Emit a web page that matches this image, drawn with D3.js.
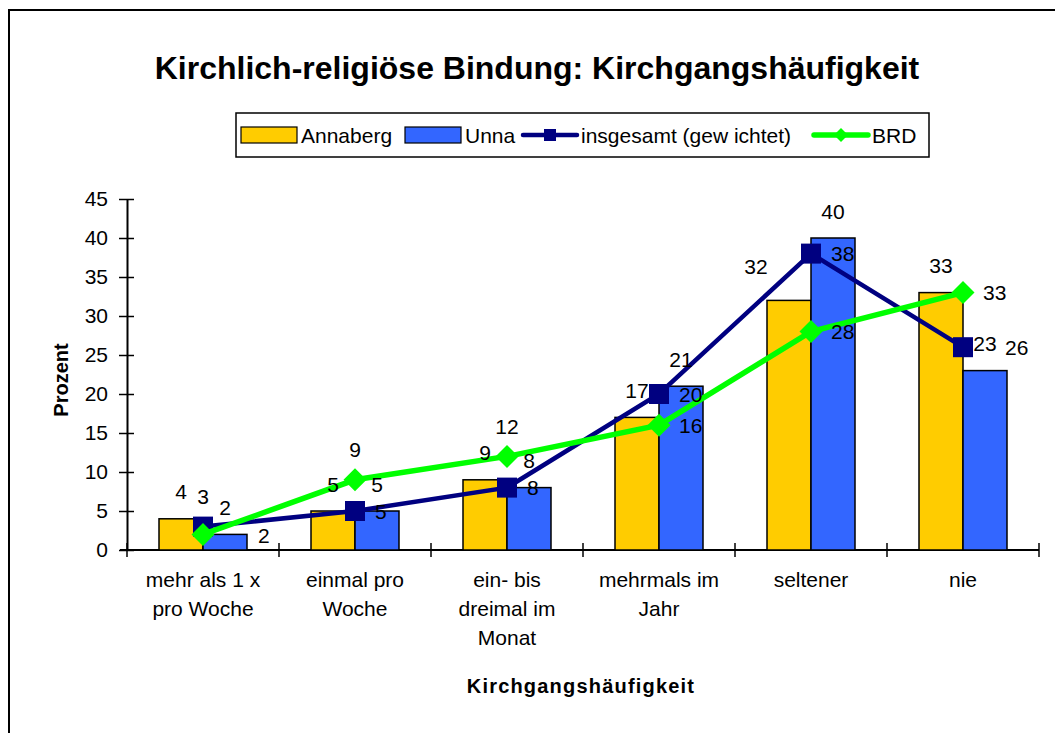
<!DOCTYPE html>
<html>
<head>
<meta charset="utf-8">
<script src="https://cdn.jsdelivr.net/npm/d3@7"></script>
<style>
  body { margin: 0; background: #fff; }
  text { font-family: "Liberation Sans", Arial, sans-serif; fill: #000; }
</style>
</head>
<body>
<script>
var categories = [
  ["mehr als 1 x", "pro Woche"],
  ["einmal pro", "Woche"],
  ["ein- bis", "dreimal im", "Monat"],
  ["mehrmals im", "Jahr"],
  ["seltener"],
  ["nie"]
];
var annaberg = [4, 5, 9, 17, 32, 33];
var unna = [2, 5, 8, 21, 40, 23];
var insgesamt = [3, 5, 8, 20, 38, 26];
var brd = [2, 9, 12, 16, 28, 33];
var yTicks = [0, 5, 10, 15, 20, 25, 30, 35, 40, 45];

// where Excel put the data labels
var annabergLabelPos = ["top", "top", "top", "top", "topleft", "top"];
var insgesamtLabelPos = ["above", "right", "right", "right", "right", "far"];
var brdLabelPos = ["farther", "above", "above", "right", "right", "right"];

var width = 1055, height = 733,
    fs = "21px";

var svg = d3.select("body").append("svg")
    .attr("width", width)
    .attr("height", height);

// outer frame (runs off right and bottom)
svg.append("rect")
    .attr("x", 9).attr("y", 10)
    .attr("width", width + 20).attr("height", height + 20)
    .attr("fill", "none").attr("stroke", "#000").attr("stroke-width", 2);

svg.append("text")
    .attr("x", 537).attr("y", 79)
    .attr("text-anchor", "middle")
    .style("font-size", "32px").style("font-weight", "bold")
    .text("Kirchlich-religiöse Bindung: Kirchgangshäufigkeit");

var catIdx = d3.range(categories.length);

var x0 = d3.scaleBand().domain(catIdx).range([127, 1039]);
var x1 = d3.scaleBand().domain(["Annaberg", "Unna"]).range([32, 120]);
var y = d3.scaleLinear().domain([0, 45]).range([550, 199]);

var cx = (i) => x0(i) + x0.bandwidth() / 2;

// axes
var yAxis = svg.append("g")
    .attr("transform", "translate(127,0)")
    .call(d3.axisLeft(y).tickValues(yTicks).tickSize(0).tickPadding(19));
yAxis.select(".domain").attr("stroke", "#000").attr("stroke-width", 2);
yAxis.selectAll(".tick text").style("font-size", fs).style("font-family", "Liberation Sans, Arial, sans-serif");
yAxis.selectAll(".tick").append("line")
    .attr("x1", -8).attr("x2", 7)
    .attr("stroke", "#000").attr("stroke-width", 1.5);

var xAxis = svg.append("g")
    .attr("transform", "translate(0,550)");
xAxis.append("line")
    .attr("x1", 120).attr("x2", 1039)
    .attr("stroke", "#000").attr("stroke-width", 2);
xAxis.selectAll(".xt")
    .data(d3.range(categories.length + 1))
  .enter().append("line")
    .attr("x1", (d) => 127 + d * x0.bandwidth())
    .attr("x2", (d) => 127 + d * x0.bandwidth())
    .attr("y1", -7).attr("y2", 7)
    .attr("stroke", "#000").attr("stroke-width", 1.5);

var catLabels = svg.selectAll(".cat")
    .data(categories)
  .enter().append("text")
    .attr("class", "cat")
    .attr("text-anchor", "middle")
    .style("font-size", fs);
catLabels.selectAll("tspan")
    .data((d, i) => d.map((t) => ({t: t, i: i})))
  .enter().append("tspan")
    .attr("x", (d) => cx(d.i))
    .attr("y", (d, j) => 587 + j * 29)
    .text((d) => d.t);

svg.append("text")
    .attr("transform", "translate(68,380) rotate(-90)")
    .attr("text-anchor", "middle")
    .style("font-size", "20px").style("font-weight", "bold")
    .text("Prozent");

svg.append("text")
    .attr("x", 581).attr("y", 693)
    .attr("text-anchor", "middle")
    .style("font-size", "20px").style("font-weight", "bold")
    .style("letter-spacing", "1.2px")
    .text("Kirchgangshäufigkeit");

// bars
var bars = [
  {name: "Annaberg", values: annaberg, color: "#FFCC00"},
  {name: "Unna", values: unna, color: "#3366FF"}
];
bars.forEach(function(s) {
  svg.selectAll(".bar-" + s.name)
      .data(s.values)
    .enter().append("rect")
      .attr("x", (d, i) => x0(i) + x1(s.name))
      .attr("y", (d) => y(d))
      .attr("width", x1.bandwidth())
      .attr("height", (d) => y(0) - y(d))
      .attr("fill", s.color)
      .attr("stroke", "#000").attr("stroke-width", 1.5);
});

// lines
var line = d3.line().x((d, i) => cx(i)).y((d) => y(d));

svg.append("path")
    .datum(insgesamt)
    .attr("d", line)
    .attr("fill", "none").attr("stroke", "#000080").attr("stroke-width", 4.5);
svg.selectAll(".sq")
    .data(insgesamt)
  .enter().append("rect")
    .attr("x", (d, i) => cx(i) - 10)
    .attr("y", (d) => y(d) - 10)
    .attr("width", 20).attr("height", 20)
    .attr("fill", "#000080");

svg.append("path")
    .datum(brd)
    .attr("d", line)
    .attr("fill", "none").attr("stroke", "#00FF00").attr("stroke-width", 5.5);
svg.selectAll(".dia")
    .data(brd)
  .enter().append("path")
    .attr("d", (d, i) => {
      var px = cx(i), py = y(d), r = 11.5;
      return "M" + px + "," + (py - r) + "L" + (px + r) + "," + py +
             "L" + px + "," + (py + r) + "L" + (px - r) + "," + py + "Z";
    })
    .attr("fill", "#00FF00");

// data labels
function addLabel(px, py, anchor, txt) {
  svg.append("text")
      .attr("x", px).attr("y", py)
      .attr("dy", "0.36em")
      .attr("text-anchor", anchor)
      .style("font-size", fs)
      .text(txt);
}

annaberg.forEach(function(d, i) {
  var bx = x0(i) + x1("Annaberg") + x1.bandwidth() / 2;
  if (annabergLabelPos[i] == "topleft") addLabel(bx - 33, y(d) - 34, "middle", d);
  else addLabel(bx, y(d) - 27, "middle", d);
});
unna.forEach(function(d, i) {
  var bx = x0(i) + x1("Unna") + x1.bandwidth() / 2;
  addLabel(bx, y(d) - 27, "middle", d);
});

var lineOffsets = {
  above: [0, -30, "middle"],
  right: [20, 0, "start"],
  far: [42, 0, "start"],
  farther: [55, 1, "start"]
};
[[insgesamt, insgesamtLabelPos], [brd, brdLabelPos]].forEach(function(s) {
  s[0].forEach(function(d, i) {
    var o = lineOffsets[s[1][i]];
    addLabel(cx(i) + o[0], y(d) + o[1], o[2], d);
  });
});

// legend
var lg = svg.append("g");
lg.append("rect")
    .attr("x", 236).attr("y", 113)
    .attr("width", 693).attr("height", 44)
    .attr("fill", "#fff").attr("stroke", "#000").attr("stroke-width", 1.5);

var legendItems = [
  {name: "Annaberg", type: "bar", color: "#FFCC00", x: 241},
  {name: "Unna", type: "bar", color: "#3366FF", x: 405},
  {name: "insgesamt (gew ichtet)", type: "sq", color: "#000080", x: 521},
  {name: "BRD", type: "dia", color: "#00FF00", x: 812}
];
legendItems.forEach(function(it) {
  var cy = 135;
  if (it.type == "bar") {
    lg.append("rect")
        .attr("x", it.x).attr("y", cy - 8)
        .attr("width", 56).attr("height", 16)
        .attr("fill", it.color).attr("stroke", "#000").attr("stroke-width", 1.2);
  } else {
    lg.append("line")
        .attr("x1", it.x + 2).attr("x2", it.x + 56)
        .attr("y1", cy).attr("y2", cy)
        .attr("stroke", it.color).attr("stroke-width", it.type == "sq" ? 4.5 : 5.5)
        .attr("stroke-linecap", "round");
    var mx = it.x + 29;
    if (it.type == "sq") {
      lg.append("rect")
          .attr("x", mx - 6).attr("y", cy - 6)
          .attr("width", 12).attr("height", 12)
          .attr("fill", it.color);
    } else {
      lg.append("path")
          .attr("d", "M" + mx + "," + (cy - 7) + "L" + (mx + 7) + "," + cy +
                     "L" + mx + "," + (cy + 7) + "L" + (mx - 7) + "," + cy + "Z")
          .attr("fill", it.color);
    }
  }
  lg.append("text")
      .attr("x", it.x + 60).attr("y", cy)
      .attr("dy", "0.36em")
      .style("font-size", fs)
      .text(it.name);
});
</script>
</body>
</html>
